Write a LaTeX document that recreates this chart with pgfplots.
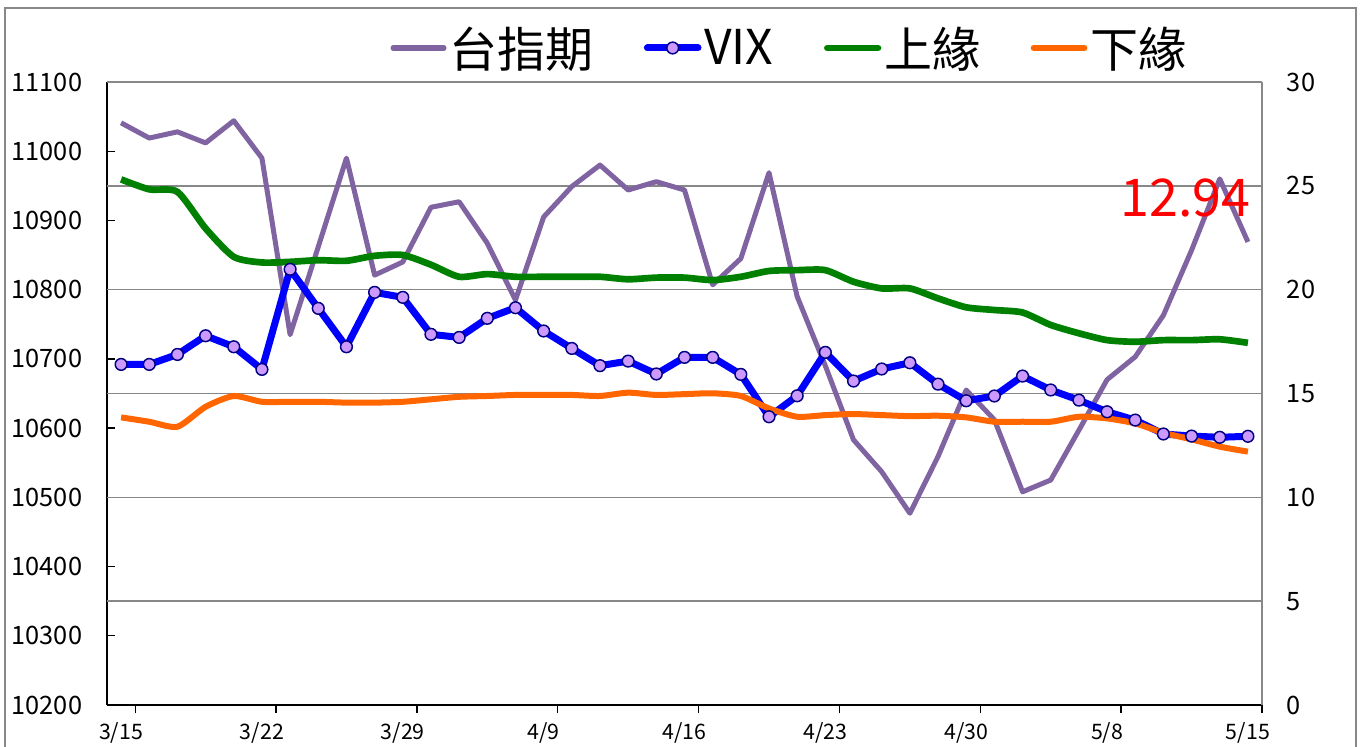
\documentclass[border=0pt]{standalone}
\usepackage{fontspec}
\setmainfont{Noto Sans CJK TC}
\usepackage{pgfplots}
\pgfplotsset{compat=1.18}
\usepackage{pgfplotstable}

\definecolor{twfc}{HTML}{8064A2}
\definecolor{vixc}{HTML}{0000FF}
\definecolor{upc}{HTML}{008000}
\definecolor{lowc}{HTML}{FF6600}
\definecolor{mkfill}{HTML}{CC99FF}
\definecolor{mkdraw}{HTML}{000080}
\definecolor{gridgray}{HTML}{888888}

\pgfplotstableread{
i twf vix up low
0 11041 16.40 25.31 13.85
1 11019 16.40 24.83 13.64
2 11028 16.88 24.71 13.40
3 11012 17.78 22.95 14.36
4 11044 17.25 21.58 14.88
5 10990 16.16 21.31 14.60
6 10735 20.98 21.34 14.60
7 10862 19.10 21.42 14.60
8 10990 17.25 21.39 14.56
9 10821 19.87 21.63 14.56
10 10840 19.63 21.67 14.60
11 10919 17.85 21.20 14.72
12 10927 17.70 20.62 14.84
13 10867 18.62 20.75 14.88
14 10785 19.13 20.62 14.93
15 10905 18.01 20.62 14.93
16 10949 17.17 20.62 14.93
17 10980 16.34 20.62 14.88
18 10944 16.56 20.50 15.04
19 10956 15.94 20.58 14.93
20 10944 16.74 20.58 14.97
21 10807 16.74 20.46 15.01
22 10845 15.92 20.62 14.88
23 10969 13.88 20.90 14.28
24 10790 14.89 20.94 13.88
25 10690 16.98 20.94 13.96
26 10583 15.60 20.38 14.01
27 10537 16.18 20.06 13.96
28 10477 16.48 20.06 13.91
29 10559 15.45 19.58 13.93
30 10655 14.65 19.15 13.85
31 10612 14.88 19.02 13.64
32 10508 15.84 18.90 13.64
33 10525 15.17 18.30 13.64
34 10597 14.68 17.90 13.88
35 10670 14.12 17.57 13.80
36 10703 13.72 17.49 13.56
37 10763 13.05 17.57 13.11
38 10857 12.95 17.57 12.79
39 10960 12.89 17.61 12.44
40 10869 12.94 17.44 12.20
}\data

\begin{document}
\begin{tikzpicture}
\useasboundingbox (0pt,0pt) rectangle (1022.25pt,559.5pt);
\draw[color=gridgray, line width=1.1pt] (3.75pt,-10pt) rectangle (1017pt,553.5pt);

\begin{axis}[
  scale only axis, width=866.25pt, height=467.25pt,
  at={(80.25pt,30.75pt)}, anchor=south west,
  xmin=-0.5, xmax=40.5, ymin=10200, ymax=11100,
  axis x line*=bottom, axis y line*=left,
  axis line style={black, line width=1pt, -},
  xtick={0,5,...,40},
  xticklabels={3/15,3/22,3/29,4/9,4/16,4/23,4/30,5/8,5/15},
  minor xtick={0.5,5.5,...,40.5},
  major x tick style={draw=none},
  minor x tick style={black, line width=1pt},
  minor tick length=6pt,
  xtick align=outside,
  ytick={10200,10300,...,11100},
  scaled y ticks=false,
  ytick align=inside,
  major tick length=6pt,
  y tick style={black, line width=1pt},
  extra y ticks={10350,10500,10650,10800,10950},
  extra y tick labels={},
  extra y tick style={grid=major, major tick length=0pt, grid style={gridgray, line width=1.1pt}},
  /pgf/number format/assume math mode=true,
  yticklabel style={/pgf/number format/1000 sep={}, font=\fontsize{19pt}{21pt}\selectfont, inner sep=0pt, anchor=east, xshift=-18.5pt},
  xticklabel style={font=\fontsize{16pt}{18pt}\selectfont, inner sep=0pt, anchor=north, yshift=-7pt},
]
\addplot[twfc, line width=3.75pt, line join=round] table[x=i,y=twf]{\data};
\end{axis}

\begin{axis}[
  scale only axis, width=866.25pt, height=467.25pt,
  at={(80.25pt,30.75pt)}, anchor=south west,
  xmin=-0.5, xmax=40.5, ymin=0, ymax=30,
  axis x line*=top, axis y line*=right,
  axis line style={gridgray, line width=1.1pt, -},
  xtick=\empty,
  ytick={0,5,...,30},
  major tick length=0pt,
  /pgf/number format/assume math mode=true,
  yticklabel style={font=\fontsize{19pt}{21pt}\selectfont, inner sep=0pt, anchor=west, xshift=18.5pt},
  legend style={draw=none, fill=none, at={(0.591,1.0546)}, anchor=center,
    legend columns=-1, font=\fontsize{36pt}{40pt}\selectfont,
    /tikz/every even column/.append style={column sep=36pt}},
  legend image code/.code={\draw[mark repeat=2, mark phase=2, line cap=round, #1] plot coordinates {(0pt,0pt) (19pt,0pt) (38pt,0pt)};},
]
\addlegendimage{twfc, line width=4pt}
\addlegendentry{台指期}
\addplot[vixc, line width=5.25pt, line join=round, mark=*, mark size=4.4pt, mark options={fill=mkfill, draw=mkdraw, line width=1.1pt}] table[x=i,y=vix]{\data};
\addlegendentry{VIX}
\addplot[upc, line width=5pt, smooth, tension=0.4] table[x=i,y=up]{\data};
\addlegendentry{上緣}
\addplot[lowc, line width=4.5pt, smooth, tension=0.4] table[x=i,y=low]{\data};
\addlegendentry{下緣}
\node[anchor=east, text=red, font=\fontsize{39pt}{44pt}\selectfont, inner sep=0pt] at (axis cs:40.1,24.4) {12.94};
\end{axis}
\end{tikzpicture}
\end{document}
